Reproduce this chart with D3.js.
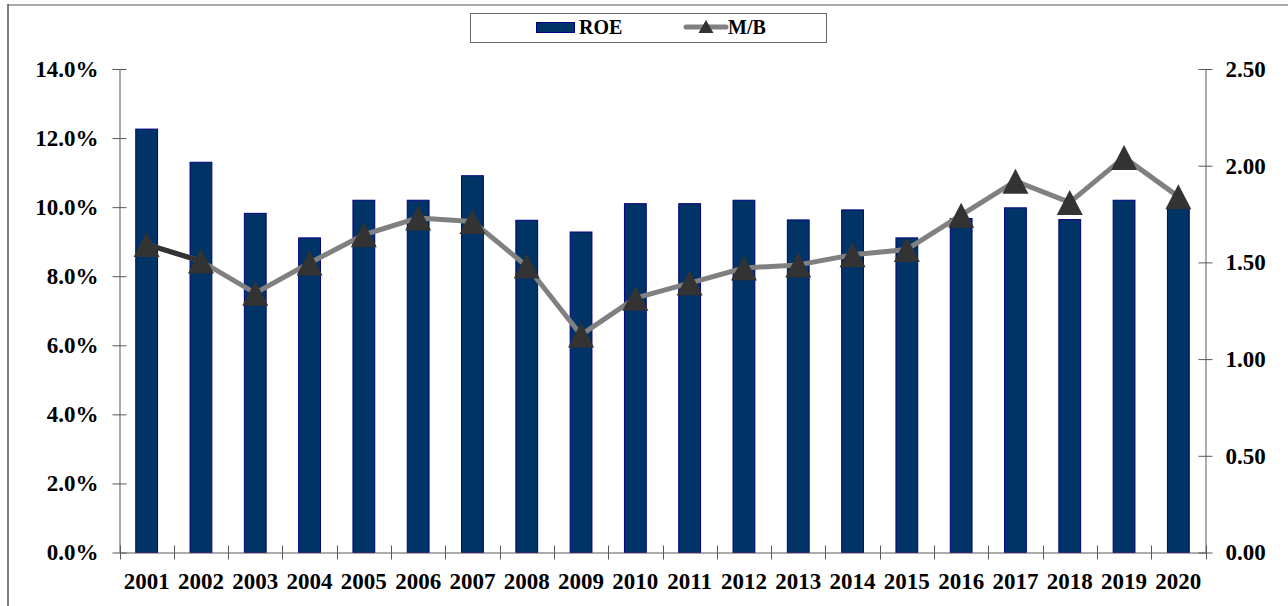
<!DOCTYPE html>
<html lang="en">
<head>
<meta charset="utf-8">
<script src="https://cdn.jsdelivr.net/npm/d3@7"></script>
<style>
  body { margin: 0; background: #fff; }
  text { font-family: "Liberation Serif", "Times New Roman", serif; font-weight: bold; }
</style>
</head>
<body>
<div id="chart"></div>
<script>
// data
var years = ["2001","2002","2003","2004","2005","2006","2007","2008","2009","2010",
             "2011","2012","2013","2014","2015","2016","2017","2018","2019","2020"];
var roe = [12.26, 11.30, 9.82, 9.11, 10.20, 10.20, 10.91, 9.62, 9.28, 10.10,
           10.10, 10.20, 9.63, 9.92, 9.11, 9.67, 9.98, 9.64, 10.20, 9.96];
var mb = [1.593, 1.507, 1.341, 1.497, 1.643, 1.73, 1.712, 1.481, 1.125, 1.315,
          1.393, 1.471, 1.487, 1.539, 1.567, 1.744, 1.92, 1.81, 2.043, 1.84];
var leftTicks = [0, 2, 4, 6, 8, 10, 12, 14];
var rightTicks = [0, 0.5, 1, 1.5, 2, 2.5];

var W = 1288, H = 606;
var plotLeft = 119.5, plotRight = 1205.5, plotTop = 69, plotBottom = 552.5;
var axisColor = "#595959";

var svg = d3.select("#chart").append("svg")
    .attr("width", W).attr("height", H);

// outer frame (top and left edge only visible)
svg.append("line").attr("x1", 8).attr("x2", W).attr("y1", 5).attr("y2", 5)
    .attr("stroke", "#aaa").attr("stroke-width", 2);
svg.append("line").attr("x1", 8).attr("x2", 8).attr("y1", 4).attr("y2", H)
    .attr("stroke", "#555").attr("stroke-width", 1.5);

// scales
var xCat = d3.scaleBand().domain(years).range([plotLeft, plotRight]).padding(0);
var x = d3.scaleBand().domain(years).range([plotLeft, plotRight])
    .paddingInner(0.58).paddingOuter(0.29);
var yL = d3.scaleLinear().domain([0, 14]).range([plotBottom, plotTop]);
var yR = d3.scaleLinear().domain([0, 2.5]).range([plotBottom, plotTop]);

// bars
svg.append("g").selectAll("rect")
    .data(years)
    .enter().append("rect")
    .attr("x", function (d) { return x(d) + 0.5; })
    .attr("y", function (d, i) { return yL(roe[i]); })
    .attr("width", x.bandwidth() - 1)
    .attr("height", function (d, i) { return plotBottom - yL(roe[i]); })
    .attr("fill", "#003366")
    .attr("stroke", "#000080")
    .attr("stroke-width", 1);

// axes
var gL = svg.append("g")
    .attr("transform", "translate(" + plotLeft + ",0)")
    .call(d3.axisLeft(yL).tickValues(leftTicks).tickSizeInner(7).tickSizeOuter(0)
        .tickPadding(14).tickFormat(function (d) { return d.toFixed(1) + "%"; }));
gL.selectAll(".tick line").attr("x1", 7);

var gR = svg.append("g")
    .attr("transform", "translate(" + plotRight + ",0)")
    .call(d3.axisRight(yR).tickValues(rightTicks).tickSizeInner(7).tickSizeOuter(0)
        .tickPadding(13).tickFormat(d3.format(".2f")));
gR.selectAll(".tick line").attr("x1", -7);

var gX = svg.append("g")
    .attr("transform", "translate(0," + plotBottom + ")")
    .call(d3.axisBottom(xCat).tickSize(0).tickSizeOuter(0));
gX.selectAll("text").attr("y", 36).attr("dy", null);

// category boundary ticks
var bounds = years.map(function (d) { return xCat(d); }).concat([plotRight]);
svg.append("g").selectAll("line")
    .data(bounds)
    .enter().append("line")
    .attr("x1", function (d) { return Math.round(d) + 0.5; })
    .attr("x2", function (d) { return Math.round(d) + 0.5; })
    .attr("y1", plotBottom - 7).attr("y2", plotBottom + 7)
    .attr("stroke", axisColor);

[gL, gR, gX].forEach(function (g) {
    g.select(".domain").attr("stroke", axisColor);
    g.selectAll(".tick line").attr("stroke", axisColor);
    g.selectAll("text").attr("font-size", 23).attr("fill", "#000")
        .attr("font-family", "Liberation Serif, Times New Roman, serif")
        .attr("font-weight", "bold");
});

// M/B line
var cx = function (i) { return x(years[i]) + x.bandwidth() / 2; };
var line = d3.line()
    .x(function (d, i) { return cx(i); })
    .y(function (d) { return yR(d); });

svg.append("path")
    .datum(mb)
    .attr("d", line)
    .attr("fill", "none")
    .attr("stroke", "#808080")
    .attr("stroke-width", 5)
    .attr("stroke-linejoin", "round");

// first segment is drawn darker in the original
svg.append("line")
    .attr("x1", cx(0)).attr("y1", yR(mb[0]))
    .attr("x2", cx(1)).attr("y2", yR(mb[1]))
    .attr("stroke", "#333").attr("stroke-width", 5);

var tri = function (w, h) {
    return "M0," + (-h / 2) + "L" + (w / 2) + "," + (h / 2) + "L" + (-w / 2) + "," + (h / 2) + "Z";
};

svg.append("g").selectAll("path")
    .data(mb)
    .enter().append("path")
    .attr("d", tri(26, 25))
    .attr("transform", function (d, i) { return "translate(" + cx(i) + "," + yR(d) + ")"; })
    .attr("fill", "#333333");

// legend
var lg = svg.append("g");
lg.append("rect").attr("x", 470.5).attr("y", 13.5).attr("width", 356).attr("height", 29)
    .attr("fill", "#fff").attr("stroke", "#666");
lg.append("rect").attr("x", 536.5).attr("y", 22.5).attr("width", 38).attr("height", 10)
    .attr("fill", "#003366").attr("stroke", "#000080");
lg.append("text").attr("x", 579).attr("y", 33.5).attr("font-size", 20).text("ROE");
lg.append("line").attr("x1", 686).attr("x2", 726).attr("y1", 27).attr("y2", 27)
    .attr("stroke", "#808080").attr("stroke-width", 5).attr("stroke-linecap", "round");
lg.append("path").attr("d", tri(15, 13))
    .attr("transform", "translate(706,26.5)").attr("fill", "#333333");
lg.append("text").attr("x", 728).attr("y", 33.5).attr("font-size", 20).text("M/B");
</script>
</body>
</html>
